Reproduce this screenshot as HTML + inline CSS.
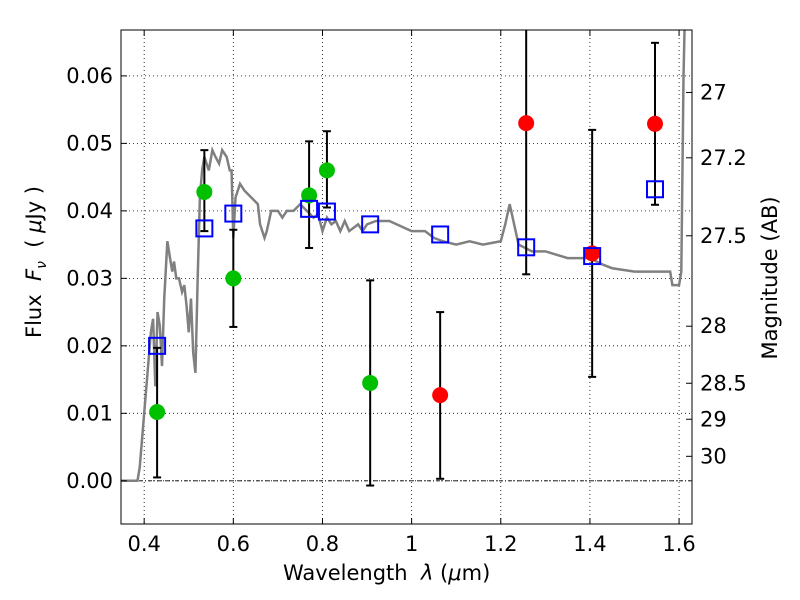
<!DOCTYPE html>
<html><head><meta charset="utf-8"><style>
body{margin:0;background:#fff;}
svg{display:block;font-family:"DejaVu Sans","Liberation Sans",sans-serif;}
</style></head><body>
<svg id="chart" width="800" height="600"></svg>
<script>
const greenWave=[0.429,0.535,0.60,0.770,0.810,0.907];
const greenFlux=[0.0102,0.0428,0.030,0.0423,0.046,0.0145];
const redWave=[1.064,1.257,1.405,1.546];
const redFlux=[0.0127,0.053,0.0337,0.0529];
const errWave=[0.429,0.535,0.60,0.770,0.810,0.907,1.064,1.257,1.405,1.546];
const errLow=[0.0005,0.0370,0.0228,0.0345,0.0405,-0.0007,0.0003,0.0306,0.0154,0.0409];
const errHigh=[0.0197,0.0490,0.0372,0.0503,0.0518,0.0297,0.0250,0.0700,0.0520,0.0649];
const modelWave=[0.429,0.535,0.60,0.770,0.810,0.907,1.064,1.257,1.405,1.546];
const modelFlux=[0.020,0.0374,0.0396,0.0403,0.0399,0.0380,0.0365,0.0346,0.0333,0.0432];
const sedWave=[0.348,0.385,0.39,0.40,0.41,0.415,0.42,0.425,0.43,0.435,0.44,0.445,0.452,0.458,0.463,0.467,0.472,0.478,0.485,0.49,0.495,0.50,0.505,0.51,0.515,0.52,0.525,0.53,0.535,0.545,0.553,0.56,0.568,0.575,0.585,0.592,0.596,0.60,0.605,0.615,0.625,0.64,0.655,0.66,0.67,0.675,0.685,0.70,0.71,0.72,0.735,0.75,0.765,0.78,0.79,0.80,0.81,0.82,0.83,0.84,0.85,0.86,0.88,0.89,0.90,0.92,0.95,1.0,1.03,1.05,1.07,1.1,1.13,1.16,1.2,1.21,1.22,1.23,1.24,1.27,1.3,1.35,1.4,1.43,1.45,1.5,1.58,1.585,1.6,1.605,1.61,1.615];
const sedFlux=[0,0,0.002,0.010,0.018,0.022,0.024,0.014,0.025,0.023,0.017,0.027,0.0355,0.033,0.031,0.0325,0.030,0.030,0.028,0.029,0.026,0.022,0.027,0.019,0.016,0.030,0.042,0.046,0.048,0.046,0.049,0.048,0.047,0.049,0.048,0.046,0.046,0.036,0.042,0.044,0.043,0.042,0.041,0.038,0.036,0.037,0.040,0.040,0.039,0.040,0.040,0.041,0.040,0.039,0.0395,0.037,0.039,0.038,0.0385,0.037,0.0385,0.037,0.038,0.037,0.038,0.0385,0.0385,0.037,0.037,0.036,0.0355,0.035,0.0355,0.035,0.0355,0.038,0.041,0.038,0.035,0.034,0.034,0.033,0.033,0.032,0.0315,0.031,0.031,0.029,0.029,0.031,0.06,0.075];
const xTicks=[0.4,0.6,0.8,1,1.2,1.4,1.6];
const xTickLabels=["0.4","0.6","0.8","1","1.2","1.4","1.6"];
const yTicks=[0,0.01,0.02,0.03,0.04,0.05,0.06];
const yTickLabels=["0.00","0.01","0.02","0.03","0.04","0.05","0.06"];
const magTicks=[27,27.2,27.5,28,28.5,29,30];
const magLabels=["27","27.2","27.5","28","28.5","29","30"];

const L=121,R=692,T=30,B=524;
const X0=0.348,X1=1.629,Y0=-0.0064,Y1=0.0668;
const sx=v=>L+(v-X0)/(X1-X0)*(R-L);
const sy=v=>B-(v-Y0)/(Y1-Y0)*(B-T);
const svg=document.getElementById('chart');
const NS='http://www.w3.org/2000/svg';
function mk(tag,attrs,parent){const e=document.createElementNS(NS,tag);for(const k in attrs)e.setAttribute(k,attrs[k]);(parent||svg).appendChild(e);return e;}

const clip=mk('clipPath',{id:'pc'});mk('rect',{x:L,y:T,width:R-L,height:B-T},clip);
const plot=mk('g',{'clip-path':'url(#pc)'});


xTicks.forEach(v=>{const g=mk('line',{x1:sx(v),x2:sx(v),y1:T,y2:B,stroke:'#000','stroke-width':0.8,'stroke-dasharray':'1,3'},plot);

});
yTicks.forEach(v=>{const g=mk('line',{x1:L,x2:R,y1:sy(v),y2:sy(v),stroke:'#000','stroke-width':0.8,'stroke-dasharray':'1,3'},plot);

});
const zl=mk('line',{x1:L,x2:R,y1:sy(0),y2:sy(0),stroke:'#000','stroke-width':0.8,'stroke-dasharray':'4,2,1,2'},plot);


const sed=mk('polyline',{points:sedWave.map((w,i)=>sx(w)+','+sy(sedFlux[i])).join(' '),fill:'none',stroke:'#808080','stroke-width':2.5},plot);


errWave.forEach((w,i)=>{const g=mk('g',{stroke:'#000','stroke-width':2},plot);


mk('line',{x1:sx(w),x2:sx(w),y1:sy(errLow[i]),y2:sy(errHigh[i])},g);
mk('line',{x1:sx(w)-4,x2:sx(w)+4,y1:sy(errLow[i]),y2:sy(errLow[i])},g);
mk('line',{x1:sx(w)-4,x2:sx(w)+4,y1:sy(errHigh[i]),y2:sy(errHigh[i])},g);});
greenWave.forEach((w,i)=>{const c=mk('circle',{cx:sx(w),cy:sy(greenFlux[i]),r:8,fill:'#00c000'},plot);

});
redWave.forEach((w,i)=>{const c=mk('circle',{cx:sx(w),cy:sy(redFlux[i]),r:8,fill:'#ff0000'},plot);

});
modelWave.forEach((w,i)=>{const s=mk('rect',{x:sx(w)-8,y:sy(modelFlux[i])-8,width:16,height:16,fill:'none',stroke:'#0000ff','stroke-width':2},plot);

});
const fr=mk('rect',{x:L,y:T,width:R-L,height:B-T,fill:'none',stroke:'#000','stroke-width':1});


xTicks.forEach((v,i)=>{mk('line',{x1:sx(v),x2:sx(v),y1:B,y2:B-6,stroke:'#000'});mk('line',{x1:sx(v),x2:sx(v),y1:T,y2:T+6,stroke:'#000'});
const t=mk('text',{x:sx(v),y:B+27,'text-anchor':'middle','font-size':21});t.textContent=xTickLabels[i];

});
yTicks.forEach((v,i)=>{mk('line',{x1:L,x2:L+6,y1:sy(v),y2:sy(v),stroke:'#000'});
const t=mk('text',{x:L-8,y:sy(v)+7,'text-anchor':'end','font-size':21});t.textContent=yTickLabels[i];

});
magTicks.forEach((m,i)=>{const f=Math.pow(10,(23.9-m)/2.5);const y=sy(f);mk('line',{x1:R,x2:R-6,y1:y,y2:y,stroke:'#000'});
const t=mk('text',{x:R+8,y:y+7,'font-size':21});t.textContent=magLabels[i];

});
</script>
<div style="position:absolute;left:0;top:0;width:800px;height:600px;pointer-events:none;font-family:'DejaVu Sans','Liberation Sans',sans-serif;">
<div style="position:absolute;left:283px;top:561px;font-size:21px;white-space:nowrap;">Wavelength &nbsp;<i>λ</i> (<i>μ</i>m)</div>
<div style="position:absolute;left:36px;top:262px;font-size:21px;white-space:nowrap;transform:translate(-50%,-50%) rotate(-90deg);">Flux &nbsp;<i>F<sub style="font-size:14px">ν</sub></i> &nbsp;( <i>μ</i>Jy )</div>
<div style="position:absolute;left:770px;top:278px;font-size:21px;white-space:nowrap;transform:translate(-50%,-50%) rotate(-90deg);">Magnitude (AB)</div>
</div>
</body></html>
